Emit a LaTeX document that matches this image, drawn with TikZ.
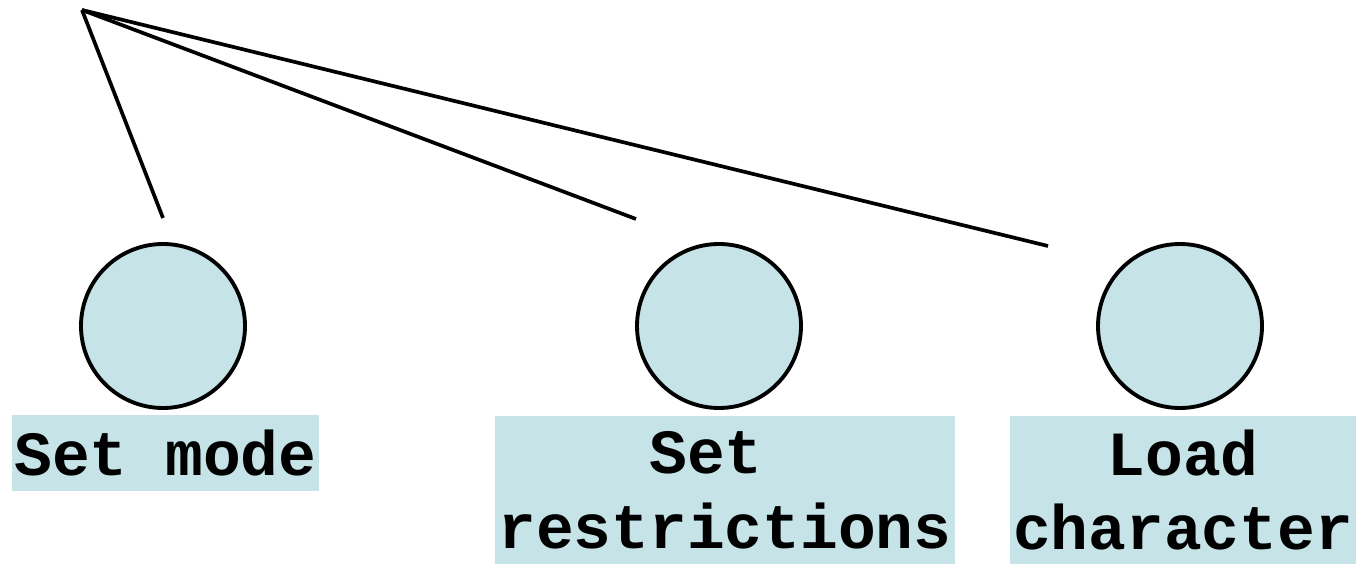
\documentclass[tikz,border=0pt]{standalone}
\usepackage{fontspec}
\usepackage{tikz}
\usepackage{xcolor}
\newfontfamily\labelfont[BoldFont={Liberation Mono Bold}]{Liberation Mono}
\definecolor{paleblue}{HTML}{C6E4E8}
\usetikzlibrary{positioning}

\begin{document}
\begin{tikzpicture}[
    step circle/.style={circle, draw=black, line width=1.1pt, fill=paleblue, minimum size=1.64cm, inner sep=0pt},
    step label/.style={fill=paleblue, inner sep=0pt, align=center, font=\labelfont\bfseries\fontsize{17.9}{21.3}\selectfont},
    branch/.style={line width=1.05pt}
  ]
  \useasboundingbox (0,0) rectangle (13.57,5.66);

  % Root and free ends of branches
  \coordinate (root) at (0.82,5.56);
  \coordinate (endmode) at (1.63,3.48);
  \coordinate (endrestr) at (6.36,3.47);
  \coordinate (endload) at (10.48,3.20);

  % Branches
  \draw[branch] (root) -- (endmode);
  \draw[branch] (root) -- (endrestr);
  \draw[branch] (root) -- (endload);

  % Steps
  \node[step circle] (mode) at (1.63,2.40) {};
  \node[step circle] (restr) at (7.19,2.40) {};
  \node[step circle] (load) at (11.80,2.40) {};

  % Labels
  \node[step label, minimum width=3.07cm, minimum height=0.76cm] (modetext) at (1.655,1.13) {Set mode};
  \node[step label, minimum width=4.60cm, minimum height=1.48cm] (restrtext) at (7.25,0.76) {Set\hphantom{s}\\restrictions};
  \node[step label, minimum width=3.46cm, minimum height=1.48cm] (loadtext) at (11.83,0.76) {Load\\character};
\end{tikzpicture}
\end{document}
